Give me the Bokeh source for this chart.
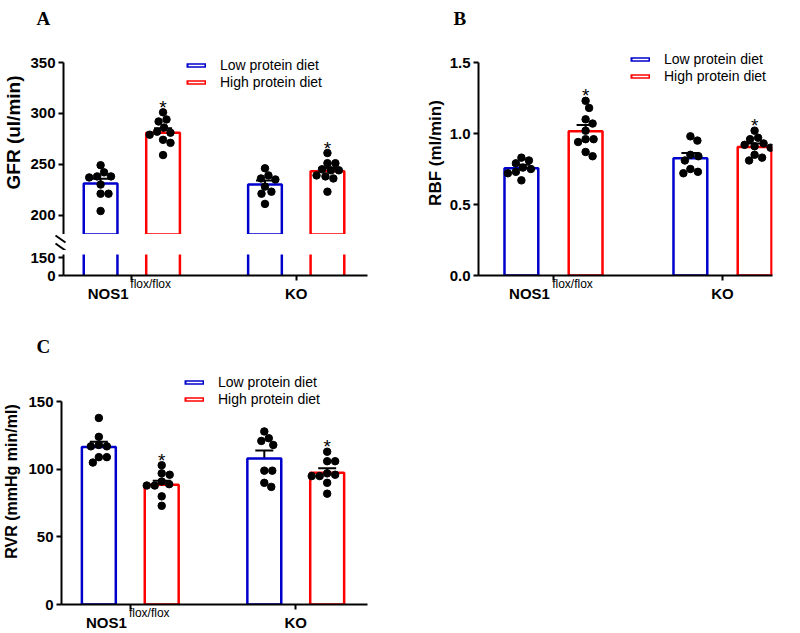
import numpy as np
from bokeh.plotting import figure
from bokeh.models import (ColumnDataSource, Range1d, FixedTicker, Whisker, TeeHead,
                          Legend, LegendItem, LinearAxis, Title)
from bokeh.layouts import row, column
from bokeh.embed import file_html
from bokeh.resources import INLINE
from bokeh.core.properties import value

# ---------------- data ----------------
groups = ["NOS1", "KO"]
group_sup = ["flox/flox", ""]
diets = ["Low protein diet", "High protein diet"]
panel_letters = ["A", "B", "C"]

# GFR (ul/min)
gfr_low_nos1 = [249, 242, 238, 238, 237, 230, 221, 221, 204]
gfr_high_nos1 = [301, 294, 292, 286, 282, 281, 279, 274, 271, 259]
gfr_low_ko = [246, 239, 236, 235, 228, 223, 221, 211]
gfr_high_ko = [261, 251, 251, 245, 244, 244, 239, 238, 236, 223]
gfr_mean_low = [231, 230]
gfr_mean_high = [281, 243]
gfr_sem_low = [4.8, 4.0]
gfr_sem_high = [4.3, 3.2]

# RBF (ml/min)
rbf_low_nos1 = [0.83, 0.81, 0.79, 0.76, 0.75, 0.73, 0.72, 0.67]
rbf_high_nos1 = [1.23, 1.18, 1.10, 1.07, 1.02, 0.96, 0.96, 0.94, 0.87, 0.84]
rbf_low_ko = [0.98, 0.95, 0.85, 0.84, 0.81, 0.75, 0.73, 0.72]
rbf_high_ko = [1.02, 0.97, 0.96, 0.93, 0.92, 0.91, 0.90, 0.85, 0.83, 0.81]
rbf_mean_low = [0.755, 0.825]
rbf_mean_high = [1.015, 0.905]
rbf_sem_low = [0.025, 0.038]
rbf_sem_high = [0.045, 0.025]

# RVR (mmHg min/ml)
rvr_low_nos1 = [138, 124, 118, 117, 117, 109, 109, 105]
rvr_high_nos1 = [103, 97, 96, 91, 89, 88, 88, 80, 73]
rvr_low_ko = [128, 123, 121, 118, 99, 99, 90, 87]
rvr_high_ko = [113, 106, 106, 97, 96, 95, 95, 90, 82]
rvr_mean_low = [116.5, 108]
rvr_mean_high = [88.5, 97.5]
rvr_sem_low = [3.8, 6.0]
rvr_sem_high = [3.0, 3.3]

gfr_ticks_upper = [200, 250, 300, 350]
gfr_ticks_lower = [0, 150]
rbf_ticks = [0.0, 0.5, 1.0, 1.5]
rvr_ticks = [0, 50, 100, 150]

# ---------------- style / geometry ----------------
BLUE = "#0000CC"
RED = "#FF0000"
SANS = "Liberation Sans"
SERIF = "Liberation Serif"
FIG_W = 400
DOT = 7.5


def make_fig(w, h, xr, yr, mbl, mbr, mbt, mbb, x_axis=True, y_axis=True):
    p = figure(width=w, height=h, x_range=Range1d(*xr), y_range=Range1d(*yr),
               output_backend="svg", toolbar_location=None,
               x_axis_location="below" if x_axis else None,
               y_axis_location="left" if y_axis else None,
               min_border=0,
               min_border_left=mbl, min_border_right=mbr,
               min_border_top=mbt, min_border_bottom=mbb)
    p.grid.visible = False
    p.outline_line_color = None
    p.background_fill_color = "white"
    p.border_fill_color = "white"
    return p


def style_y(p, ticks, bounds, label, standoff, label_size="16px", overrides=None):
    ax = p.yaxis[0]
    ax.ticker = FixedTicker(ticks=ticks)
    ax.bounds = bounds
    if overrides:
        ax.major_label_overrides = overrides
    ax.axis_line_width = 2
    ax.major_tick_line_width = 2
    ax.major_tick_out = 5
    ax.major_tick_in = 0
    ax.minor_tick_line_color = None
    ax.major_label_text_font = SANS
    ax.major_label_text_font_style = "bold"
    ax.major_label_text_font_size = "15px"
    ax.major_label_text_color = "black"
    ax.major_label_standoff = 3
    ax.axis_label = label
    ax.axis_label_text_font = SANS
    ax.axis_label_text_font_style = "bold"
    ax.axis_label_text_font_size = label_size
    ax.axis_label_text_color = "black"
    ax.axis_label_standoff = standoff


def style_x(p, pxx):
    idx = list(range(len(groups)))
    # tick marks at the group centres
    ax = p.xaxis[0]
    ax.ticker = FixedTicker(ticks=idx)
    ax.major_label_overrides = {i: "" for i in idx}
    ax.major_label_text_font_size = "0px"
    ax.major_label_standoff = 0
    ax.axis_line_width = 2
    ax.major_tick_line_width = 2
    ax.major_tick_out = 5
    ax.major_tick_in = 0
    ax.minor_tick_line_color = None
    # group names (shifted left when a superscript follows)
    name_pos = [i - 24.0 / pxx if s else float(i) for i, s in zip(idx, group_sup)]
    ax_name = LinearAxis(ticker=FixedTicker(ticks=name_pos),
                         major_label_overrides={pos: g for pos, g in zip(name_pos, groups)},
                         axis_line_color=None, major_tick_line_color=None,
                         minor_tick_line_color=None, major_tick_out=0, major_tick_in=0,
                         major_label_standoff=4, major_label_text_font=SANS,
                         major_label_text_font_style="bold",
                         major_label_text_font_size="15px", major_label_text_color="black")
    p.add_layout(ax_name, "below")
    # superscripts, pulled back up next to the names
    sups = [s for s in group_sup if s]
    sup_pos = [i + 19.0 / pxx for i, s in zip(idx, group_sup) if s]
    ax_sup = LinearAxis(ticker=FixedTicker(ticks=sup_pos),
                        major_label_overrides={pos: s for pos, s in zip(sup_pos, sups)},
                        axis_line_color=None, major_tick_line_color=None,
                        minor_tick_line_color=None, major_tick_out=0, major_tick_in=0,
                        major_label_standoff=-28, major_label_text_font=SANS,
                        major_label_text_font_size="12px", major_label_text_color="black")
    p.add_layout(ax_sup, "below")


def swarm(vals, py, d):
    cands = sorted(np.arange(-30, 30.01, 0.5), key=lambda c: (abs(c), -c))
    placed, out = [], []
    for v in vals:
        y = v * py
        chosen = 0.0
        for c in cands:
            if all((c - a) ** 2 + (y - b) ** 2 >= d * d for a, b in placed):
                chosen = c
                break
        placed.append((chosen, y))
        out.append(chosen)
    return out


def draw_bars(p, means_low, means_high, off, bw):
    xs_low = [i - off for i in range(len(groups))]
    xs_high = [i + off for i in range(len(groups))]
    p.vbar(x=xs_low, top=means_low, bottom=0, width=bw, fill_color="white",
           line_color=BLUE, line_width=2.5)
    p.vbar(x=xs_high, top=means_high, bottom=0, width=bw, fill_color="white",
           line_color=RED, line_width=2.5)
    return xs_low, xs_high


def draw_bar_sides(p, means_low, means_high, off, bw):
    # lower half of a broken axis: only the two sides of each bar are seen
    for sign, means, col in [(-1, means_low, BLUE), (1, means_high, RED)]:
        xs = [i + sign * off for i in range(len(groups))]
        for side in (-1, 1):
            xe = [x + side * bw / 2 for x in xs]
            p.segment(x0=xe, y0=[0] * len(xe), x1=xe, y1=means, line_color=col,
                      line_width=2.5)


def draw_points(p, centers, series, pxx, pxy):
    for cx, vals in zip(centers, series):
        offs = swarm(vals, pxy, DOT + 0.4)
        xs = [cx + o / pxx for o in offs]
        p.scatter(x=xs, y=vals, size=DOT, fill_color="black", line_color="black")


def draw_err(p, xs, means, sems):
    src = ColumnDataSource(dict(base=xs, lower=means,
                                upper=[m + s for m, s in zip(means, sems)]))
    p.add_layout(Whisker(source=src, base="base", lower="lower", upper="upper",
                         dimension="height", line_width=2, line_color="black",
                         upper_head=TeeHead(size=18, line_width=2, line_color="black"),
                         lower_head=None))


def draw_stars(p, xs, tops):
    p.text(x=xs, y=tops, text=["*"] * len(xs), text_font=value(SANS),
           text_font_size="19px", text_align="center", text_baseline="alphabetic",
           y_offset=-5, text_color="black")


def add_legend(p, loc):
    items = []
    nan = float("nan")
    for lab, col in zip(diets, [BLUE, RED]):
        r1 = p.line(x=[nan, nan], y=[nan, nan], line_color=col, line_width=4.5,
                    line_cap="butt")
        r2 = p.line(x=[nan, nan], y=[nan, nan], line_color="white", line_width=1.5,
                    line_cap="butt", line_dash="0 2 16 100")
        items.append(LegendItem(label=lab, renderers=[r1, r2]))
    leg = Legend(items=items, location=loc, glyph_width=20, glyph_height=16,
                 label_height=16, spacing=1, padding=0, margin=0,
                 border_line_color=None, background_fill_alpha=0,
                 label_standoff=14, label_text_font=SANS,
                 label_text_font_size="14px", label_text_color="black")
    p.add_layout(leg)


def add_letter(p, letter, offset, standoff):
    p.title = Title(text=letter, align="left", offset=offset, standoff=standoff,
                    text_font=SERIF, text_font_style="bold", text_font_size="19px",
                    text_color="black")


# ---------------- panel A (broken axis) ----------------
XR_AC = (-0.4157, 1.4337)
MBL_AC, MBR_AC = 60, 33
pxx_ac = (FIG_W - MBL_AC - MBR_AC) / (XR_AC[1] - XR_AC[0])
OFF, BW_AC = 0.19, 0.205

A_TOP_H, A_GAP_H, A_BOT_H = 234, 16, 60
A_MBT = 30
a_py = 178.0 / 175.0
a_top_y = (350 - (A_TOP_H - 62) / a_py, 350 + (62 - A_MBT) / a_py)
a_top = make_fig(FIG_W, A_TOP_H, XR_AC, a_top_y, MBL_AC, MBR_AC, A_MBT, 0, x_axis=False)
a_bot = make_fig(FIG_W, A_BOT_H, XR_AC, (0, 175), MBL_AC, MBR_AC, 4, 35)
style_y(a_top, gfr_ticks_upper, (175, 350), "GFR (ul/min)", 3, label_size="19px")
style_y(a_bot, gfr_ticks_lower, (0, 175), "", 3)
style_x(a_bot, pxx_ac)

xl, xh = draw_bars(a_top, gfr_mean_low, gfr_mean_high, OFF, BW_AC)
draw_bar_sides(a_bot, gfr_mean_low, gfr_mean_high, OFF, BW_AC)
draw_points(a_top, xl, [gfr_low_nos1, gfr_low_ko], pxx_ac, a_py)
draw_points(a_top, xh, [gfr_high_nos1, gfr_high_ko], pxx_ac, a_py)
draw_err(a_top, xl, gfr_mean_low, gfr_sem_low)
draw_err(a_top, xh, gfr_mean_high, gfr_sem_high)
draw_stars(a_top, xh, [max(gfr_high_nos1), max(gfr_high_ko)])
add_legend(a_top, (123, 144))
add_letter(a_top, panel_letters[0], -27, 4)

# axis-break marks, in a thin strip (pixel-like ranges) between the two halves
a_gap = make_fig(FIG_W, A_GAP_H, (0, FIG_W), (0, A_GAP_H), 0, 0, 0, 0,
                 x_axis=False, y_axis=False)
if "frame_align" in a_gap.properties():
    a_gap.frame_align = False
a_gap.segment(x0=[MBL_AC - 5] * 2, y0=[15, 7], x1=[MBL_AC + 5] * 2, y1=[8, 0],
              line_color="black", line_width=2)

# ---------------- panel B ----------------
XR_B = (-0.4438, 1.2959)
MBL_B, MBR_B = 78, 28
B_H = 310
B_MBT, B_MBB = 30, 35
pxx_b = (FIG_W - MBL_B - MBR_B) / (XR_B[1] - XR_B[0])
pxy_b = 213.0 / 1.5
pB = make_fig(FIG_W, B_H, XR_B, (0, (B_H - B_MBT - B_MBB) / pxy_b), MBL_B, MBR_B,
              B_MBT, B_MBB)
style_y(pB, rbf_ticks, (0, 1.5), "RBF (ml/min)", 2, label_size="17px",
        overrides={0.0: "0.0", 0.5: "0.5", 1.0: "1.0", 1.5: "1.5"})
style_x(pB, pxx_b)
xl, xh = draw_bars(pB, rbf_mean_low, rbf_mean_high, OFF, 0.20)
draw_points(pB, xl, [rbf_low_nos1, rbf_low_ko], pxx_b, pxy_b)
draw_points(pB, xh, [rbf_high_nos1, rbf_high_ko], pxx_b, pxy_b)
draw_err(pB, xl, rbf_mean_low, rbf_sem_low)
draw_err(pB, xh, rbf_mean_high, rbf_sem_high)
draw_stars(pB, xh, [max(rbf_high_nos1), max(rbf_high_ko)])
add_legend(pB, (152, 191))
add_letter(pB, panel_letters[1], -25, 4)

# ---------------- panel C ----------------
C_H = 323
C_MBT, C_MBB = 48, 28
pxy_c = 203.6 / 150
pC = make_fig(FIG_W, C_H, XR_AC, (0, (C_H - C_MBT - C_MBB) / pxy_c), MBL_AC, MBR_AC,
              C_MBT, C_MBB)
style_y(pC, rvr_ticks, (0, 150), "RVR (mmHg min/ml)", 5)
style_x(pC, pxx_ac)
xl, xh = draw_bars(pC, rvr_mean_low, rvr_mean_high, OFF, BW_AC)
draw_points(pC, xl, [rvr_low_nos1, rvr_low_ko], pxx_ac, pxy_c)
draw_points(pC, xh, [rvr_high_nos1, rvr_high_ko], pxx_ac, pxy_c)
draw_err(pC, xl, rvr_mean_low, rvr_sem_low)
draw_err(pC, xh, rvr_mean_high, rvr_sem_high)
draw_stars(pC, xh, [max(rvr_high_nos1), max(rvr_high_ko)])
add_legend(pC, (123, 197))
add_letter(pC, panel_letters[2], -25, 4)

layout = column(row(column(a_top, a_gap, a_bot), pB), pC)

open("out.html", "w").write(file_html(layout, INLINE, title="chart"))
